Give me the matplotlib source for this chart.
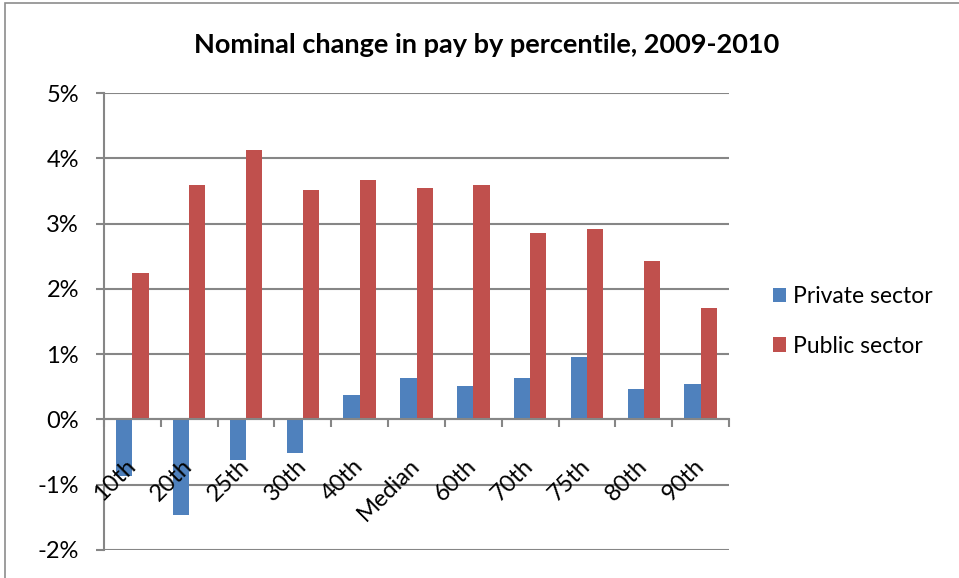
import numpy as np
import matplotlib
matplotlib.use("Agg")
from matplotlib import pyplot as plt
from matplotlib.patches import Rectangle
from matplotlib.ticker import FuncFormatter, MultipleLocator

categories = ["10th", "20th", "25th", "30th", "40th", "Median",
              "60th", "70th", "75th", "80th", "90th"]
private_sector = [-0.86, -1.47, -0.62, -0.52, 0.38, 0.64, 0.51, 0.64, 0.95, 0.47, 0.55]
public_sector = [2.24, 3.59, 4.13, 3.51, 3.67, 3.55, 3.59, 2.86, 2.92, 2.43, 1.71]

plt.rcParams["font.family"] = ["Lato", "DejaVu Sans"]
grid_col = "#868686"

fig = plt.figure(figsize=(9.59, 5.78), dpi=100)
ax = fig.add_axes([104 / 959, 28 / 578, 625 / 959, 457 / 578])

x = np.arange(len(categories))
w = 0.286
ax.bar(x - w / 2, private_sector, w, color="#4F81BD", label="Private sector", zorder=2)
ax.bar(x + w / 2, public_sector, w, color="#C0504D", label="Public sector", zorder=2)

ax.set_xlim(-0.5, len(categories) - 0.5)
ax.set_ylim(-2, 5)
ax.yaxis.set_major_locator(MultipleLocator(1))
ax.yaxis.set_major_formatter(FuncFormatter(lambda v, p: f"{v:.0f}%"))
ax.grid(axis="y", color=grid_col, linewidth=1.5)
ax.set_axisbelow(True)

for s in ["top", "right"]:
    ax.spines[s].set_visible(False)
ax.spines["left"].set_color(grid_col)
ax.spines["left"].set_linewidth(1.5)
ax.spines["bottom"].set_position(("data", 0))
ax.spines["bottom"].set_color(grid_col)
ax.spines["bottom"].set_linewidth(1.5)
ax.spines["bottom"].set_zorder(3)

ax.tick_params(axis="y", length=6, width=1.5, color=grid_col, labelsize=17, pad=12)
ax.set_xticks(x)
ax.set_xticklabels([])
ax.tick_params(axis="x", which="major", length=0)
ax.set_xticks(np.arange(len(categories) + 1) - 0.5, minor=True)
ax.tick_params(axis="x", which="minor", length=6, width=1.5, color=grid_col)

# category labels drawn on top of the bars, as in the original
for i, lab in enumerate(categories):
    ax.annotate(lab, xy=(i, 0), xytext=(0, -31), textcoords="offset points",
                rotation=45, ha="right", va="center", rotation_mode="anchor",
                fontsize=17, zorder=5, annotation_clip=False)

fig.text(487 / 959, 1 - 45 / 578, "Nominal change in pay by percentile, 2009-2010",
         ha="center", va="center", fontsize=19.5, fontweight="bold")

ax.legend(loc="center left", bbox_to_anchor=(1.0, 0.50), frameon=False,
          fontsize=16.5, handlelength=0.6, handleheight=0.6, handletextpad=0.3,
          labelspacing=1.25, borderaxespad=1.5)

fig.patches.append(Rectangle((5 / 959, -0.1), 1.2, 1.1 - 3 / 578,
                             transform=fig.transFigure, fill=False,
                             edgecolor="#8c8c8c", linewidth=1.2))

fig.savefig("out.png", dpi=100)
